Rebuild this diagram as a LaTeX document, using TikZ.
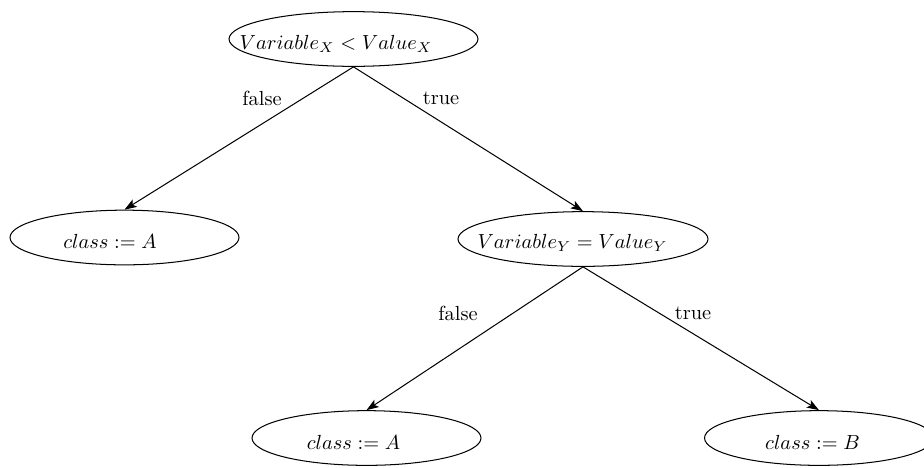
\documentclass[tikz,border=0pt]{standalone}
\usetikzlibrary{arrows.meta,shapes.geometric}
\begin{document}
\begin{tikzpicture}[x=0.49pt,y=-0.49pt,
  oval/.style={draw, ellipse, line width=0.5pt, inner sep=0pt, minimum height=26.8pt},
  txt/.style={inner sep=0pt, outer sep=0pt},
  branch/.style={draw, line width=0.5pt, -{Stealth[length=6pt,width=4.2pt,inset=1.4pt]}},
  blabel/.style={inner sep=0pt, outer sep=0pt}]
\useasboundingbox (0,0) rectangle (924,467);

% decision and leaf ellipses
\node[oval, minimum width=122pt]   (root)  at (353.5,39)  {};
\node[oval, minimum width=112.2pt] (leafA) at (124.5,237.5) {};
\node[oval, minimum width=122.5pt] (testY) at (583,239)   {};
\node[oval, minimum width=112.2pt] (leafA2) at (366.5,438) {};
\node[oval, minimum width=112.2pt] (leafB) at (819,438)   {};

% texts inside the ellipses
\node[txt] (rootT)   at (336,43.5)  {$Variable_X < Value_X$};
\node[txt] (leafAT)  at (110,241)   {$class := A$};
\node[txt] (testYT)  at (572.5,243) {$Variable_Y = Value_Y$};
\node[txt] (leafA2T) at (353.5,442) {$class := A$};
\node[txt] (leafBT)  at (812.5,442) {$class := B$};

% branches
\draw[branch] (root.south)  -- (leafA.north);
\draw[branch] (root.south)  -- (testY.north);
\draw[branch] (testY.south) -- (leafA2.north);
\draw[branch] (testY.south) -- (leafB.north);

% branch labels
\node[blabel] (f1) at (262,98)  {false};
\node[blabel] (t1) at (441,98)  {true};
\node[blabel] (f2) at (458,313) {false};
\node[blabel] (t2) at (693,313) {true};
\end{tikzpicture}
\end{document}
